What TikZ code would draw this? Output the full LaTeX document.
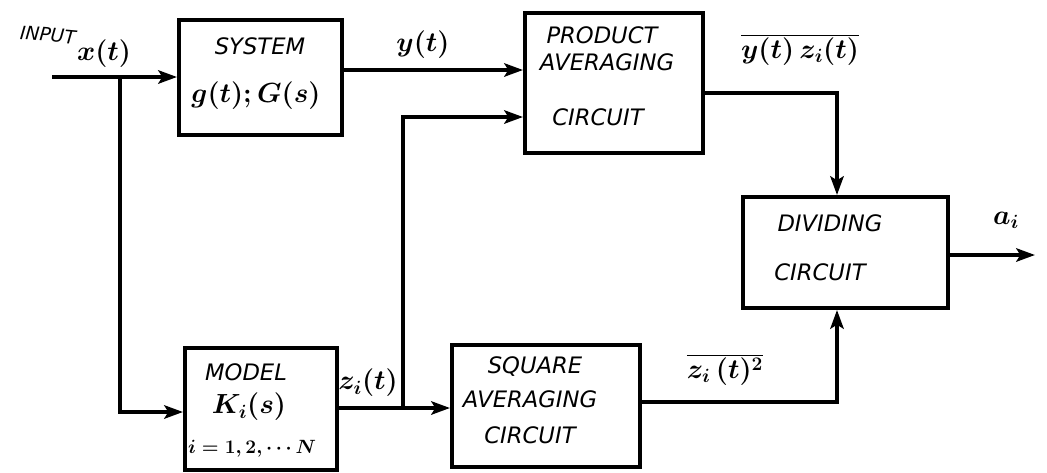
\documentclass[tikz,border=0pt]{standalone}
\usepackage{fontspec}
\newfontfamily\hand{DejaVu Sans}
\usetikzlibrary{arrows.meta}
\begin{document}
\begin{tikzpicture}[x=0.75pt,y=-0.75pt,
  blk/.style={draw,line width=3pt,inner sep=0pt},
  wire/.style={line width=3pt},
  arr/.style={wire,-{Stealth[length=14pt,width=10pt,inset=3pt]}},
  lbl/.style={font=\hand\itshape\fontsize{17}{17}\selectfont,inner sep=0pt},
  mth/.style={font=\boldmath\fontsize{21}{21}\selectfont,inner sep=0pt}]
\useasboundingbox (0,0) rectangle (1047,472);
% blocks
\node[blk,minimum width=122.25pt,minimum height=86.25pt] (sys) at (260.5,77.5) {};
\node[blk,minimum width=133.5pt,minimum height=105pt] (prod) at (614,83) {};
\node[blk,minimum width=153.75pt,minimum height=83.25pt] (div) at (845.5,252.5) {};
\node[blk,minimum width=114pt,minimum height=91.5pt] (model) at (261,409) {};
\node[blk,minimum width=141pt,minimum height=91.5pt] (sq) at (546,406) {};
% block texts
\node[lbl] (t1) at (260,46) {SYSTEM};
\node[mth] (t2) at (256,96) {$g(t);G(s)$};
\node[lbl] (t3) at (602,35) {PRODUCT};
\node[lbl] (t4) at (607,62) {AVERAGING};
\node[lbl] (t5) at (598,117) {CIRCUIT};
\node[lbl] (t6) at (830,223) {DIVIDING};
\node[lbl] (t7) at (820,272) {CIRCUIT};
\node[lbl] (t8) at (246,372) {MODEL};
\node[mth] (t9) at (249,407) {$K_i(s)$};
\node[mth,font=\boldmath\fontsize{15}{15}\selectfont] (t10) at (252,449) {$i=1,2,\cdots N$};
\node[lbl] (t11) at (535,367) {SQUARE};
\node[lbl] (t12) at (530,399) {AVERAGING};
\node[lbl] (t13) at (530,435) {CIRCUIT};
% signal labels
\node[lbl,font=\hand\itshape\fontsize{14}{14}\selectfont,rotate=-5] (l0) at (48,35) {INPUT};
\node[mth] (l1) at (104,54) {$x(t)$};
\node[mth] (l2) at (423,45) {$y(t)$};
\node[mth] (l3) at (800,50) {$\overline{y(t)\,z_i(t)}$};
\node[mth] (l4) at (1006,220) {$a_i$};
\node[mth] (l5) at (368,383) {$z_i(t)$};
\node[mth] (l6) at (725,370) {$\overline{z_i\,(t)^2}$};
% coordinates
\coordinate (in) at (52,77);
\coordinate (b1) at (120,77);
\coordinate (m1) at (120,412);
\coordinate (y1) at (342,70);
\coordinate (b2) at (403,408);
\coordinate (p2) at (403,117);
\coordinate (d1) at (837,93);
\coordinate (d2) at (837,402);
\coordinate (out) at (1035,255);
% connectors
\draw[arr] (in) -- (sys.west |- in);
\draw[arr] (b1) -- (m1) -- (model.west |- m1);
\draw[arr] (y1) -- (prod.west |- y1);
\draw[arr] (model.east |- b2) -- (sq.west |- b2);
\draw[arr] (b2) -- (p2) -- (prod.west |- p2);
\draw[arr] (prod.east |- d1) -- (d1) -- (d1 |- div.north);
\draw[arr] (sq.east |- d2) -- (d2) -- (d2 |- div.south);
\draw[arr] (div.east |- out) -- (out);
\end{tikzpicture}
\end{document}
